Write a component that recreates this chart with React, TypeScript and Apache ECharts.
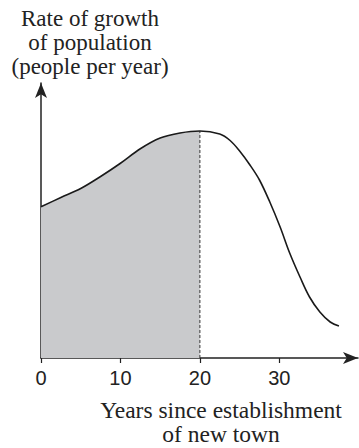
import React, { useEffect, useRef } from "react";
import * as echarts from "echarts";

// Years since establishment (x) and rate of growth (y, arbitrary units)
const years = [0, 2.5, 5, 7.5, 10, 12.5, 15, 17.5, 20, 22.5, 23.8, 25.0, 26.3, 27.5, 28.8, 30.1, 31.3, 32.6, 33.8, 35.1, 36.4, 37.5];
const rates = [60.5, 64.2, 67.8, 72.6, 77.9, 83.7, 88.0, 90.0, 90.8, 89.6, 87.0, 82.8, 77.2, 71.2, 62.4, 52.4, 42.0, 32.4, 24.4, 18.4, 14.4, 12.8];
const shadeEnd = 20;
const xTicks = [0, 10, 20, 30];
const xMax = 39.9;
const yMax = 110;
const yTitle = "Rate of growth\nof population\n(people per year)";
const xTitle = "Years since establishment\nof new town";

export default function App() {
  const ref = useRef<HTMLDivElement>(null);
  useEffect(() => {
    if (!ref.current) return;
    const chart = echarts.init(ref.current, null, { renderer: "svg" });
    const full = years.map((x, i) => [x, rates[i]]);
    const shaded = full.filter((p) => p[0] <= shadeEnd);
    const peak = rates[years.indexOf(shadeEnd)];
    const serif = "'Liberation Serif', 'Times New Roman', serif";
    chart.setOption({
      animation: false,
      backgroundColor: "#ffffff",
      grid: { left: 41, right: 1, top: 83, bottom: 90 },
      xAxis: {
        type: "value",
        min: 0,
        max: xMax,
        splitLine: { show: false },
        axisLine: {
          show: true,
          lineStyle: { color: "#222", width: 1.5 },
          symbol: ["none", "arrow"],
          symbolSize: [9, 15],
        },
        axisTick: { show: true, length: 5, inside: false, lineStyle: { color: "#222", width: 1.2 }, customValues: xTicks },
        axisLabel: {
          customValues: xTicks,
          margin: 10,
          fontSize: 20,
          color: "#222",
          fontFamily: "'Liberation Sans', Arial, sans-serif",
        },
      },
      yAxis: {
        type: "value",
        min: 0,
        max: yMax,
        splitLine: { show: false },
        axisLine: {
          show: true,
          onZero: false,
          lineStyle: { color: "#222", width: 1.5 },
          symbol: ["none", "arrow"],
          symbolSize: [9, 15],
        },
        axisTick: { show: false },
        axisLabel: { show: false },
      },
      series: [
        {
          type: "line",
          data: shaded,
          smooth: 0.35,
          symbol: "none",
          lineStyle: { width: 0, opacity: 0 },
          areaStyle: { color: "#c9cacc", opacity: 1 },
          z: 1,
        },
        {
          type: "line",
          data: [[shadeEnd, 0], [shadeEnd, peak]],
          symbol: "none",
          lineStyle: { color: "#333", width: 1, type: [3, 2] },
          z: 2,
        },
        {
          type: "line",
          data: full,
          smooth: 0.35,
          symbol: "none",
          lineStyle: { color: "#1a1a1a", width: 1.6 },
          z: 3,
        },
      ],
      graphic: [
        {
          type: "text",
          x: 90,
          y: 42,
          style: {
            text: yTitle,
            fontFamily: serif,
            fontSize: 23,
            lineHeight: 24,
            fill: "#222",
            align: "center",
            verticalAlign: "middle",
          },
        },
        {
          type: "text",
          x: 221,
          y: 422,
          style: {
            text: xTitle,
            fontFamily: serif,
            fontSize: 23.5,
            lineHeight: 24,
            fill: "#222",
            align: "center",
            verticalAlign: "middle",
          },
        },
      ],
    });
    return () => chart.dispose();
  }, []);
  return <div ref={ref} style={{ width: 359, height: 448, position: "absolute", left: 0, top: 0 }} />;
}
